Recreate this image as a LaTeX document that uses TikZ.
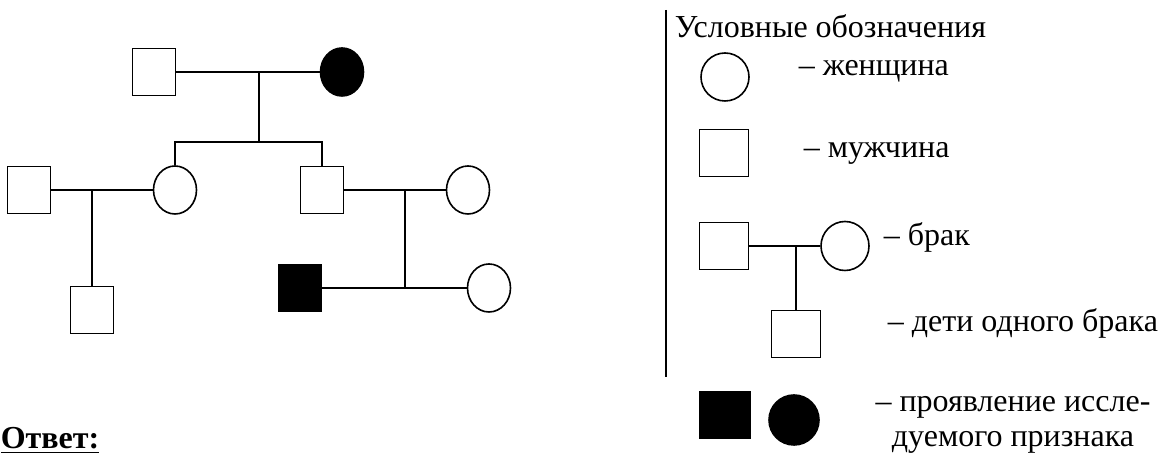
\documentclass[tikz,border=0pt]{standalone}
\usepackage{fontspec}
\setmainfont{Liberation Serif}
\usetikzlibrary{shapes.geometric}
\tikzset{
    man/.style={shape=rectangle, draw, minimum width=21.5pt, minimum height=23.5pt, inner sep=0pt},
    woman/.style={shape=ellipse, draw, minimum width=21.5pt, minimum height=24pt, inner sep=0pt},
    ill/.style={fill=black},
    legtext/.style={inner sep=0pt, font=\fontsize{16}{19}\selectfont}}

\begin{document}
\begin{tikzpicture}[x=0.5pt, y=-0.5pt, line width=0.8pt]

                    \useasboundingbox (0,0) rectangle (1168,458);

                    \node[man] (GF) at (154,72) {};
                    \node[woman, ill] (GM) at (342,72) {};
                    \node[woman] (D) at (175,190) {};
                    \node[man] (S) at (322,190) {};
                    \node[man] (H) at (29,190) {};
                    \node[man] (GC) at (92,310) {};
                    \node[woman] (W) at (468,190) {};
                    \node[man, ill] (A) at (300,288) {};
                    \node[woman] (B) at (489,288) {};

                    \coordinate (m1) at (259,72);
                    \coordinate (c1) at (259,142);
                    \coordinate (m2) at (92,190);
                    \coordinate (m3) at (405,190);
                    \coordinate (c3) at (405,288);

                    \draw (GF) -- (GM);
                    \draw (m1) -- (c1);
                    \draw (D.north) |- (c1) -| (S.north);
                    \draw (H) -- (D);
                    \draw (m2) -- (GC);
                    \draw (S) -- (W);
                    \draw (m3) -- (c3);
                    \draw (A) -- (B);

                    \coordinate (L1) at (666,10);
                    \coordinate (L2) at (666,377);
                    \draw (L1) -- (L2);
                    \node[legtext, anchor=base west] (T) at (674,38) {Условные обозначения};

                    \node[woman, minimum width=24pt, minimum height=24pt] (LW) at (725,77) {};
                    \node[legtext, anchor=base west] (TW) at (798,76) {– женщина};
                    \node[man, minimum width=24.5pt] (LM) at (724,153) {};
                    \node[legtext, anchor=base west] (TM) at (803,158) {– мужчина};

                    \node[man, minimum width=24.5pt] (BM) at (724,246) {};
                    \node[woman, minimum width=24pt, minimum height=24.5pt] (BW) at (845,246) {};
                    \node[man, minimum width=24.5pt] (BC) at (796,334) {};
                    \coordinate (bm) at (796,246);
                    \draw (BM) -- (BW);
                    \draw (bm) -- (BC);
                    \node[legtext, anchor=base west] (TB) at (883,246) {– брак};
                    \node[legtext, anchor=base west] (TC) at (887,332) {– дети одного брака};

                    \node[man, ill, minimum width=25pt] (PM) at (725,415) {};
                    \node[woman, ill, minimum width=25pt, minimum height=25pt] (PW) at (794,420) {};
                    \node[legtext, anchor=base] (TP1) at (1013,412) {– проявление иссле-};
                    \node[legtext, anchor=base] (TP2) at (1013,447) {дуемого признака};

                    \node[legtext, anchor=base west, font=\fontsize{16}{19}\selectfont\bfseries] (ANS) at (0,449) {\underline{Ответ:}};

                \end{tikzpicture}
\end{document}
